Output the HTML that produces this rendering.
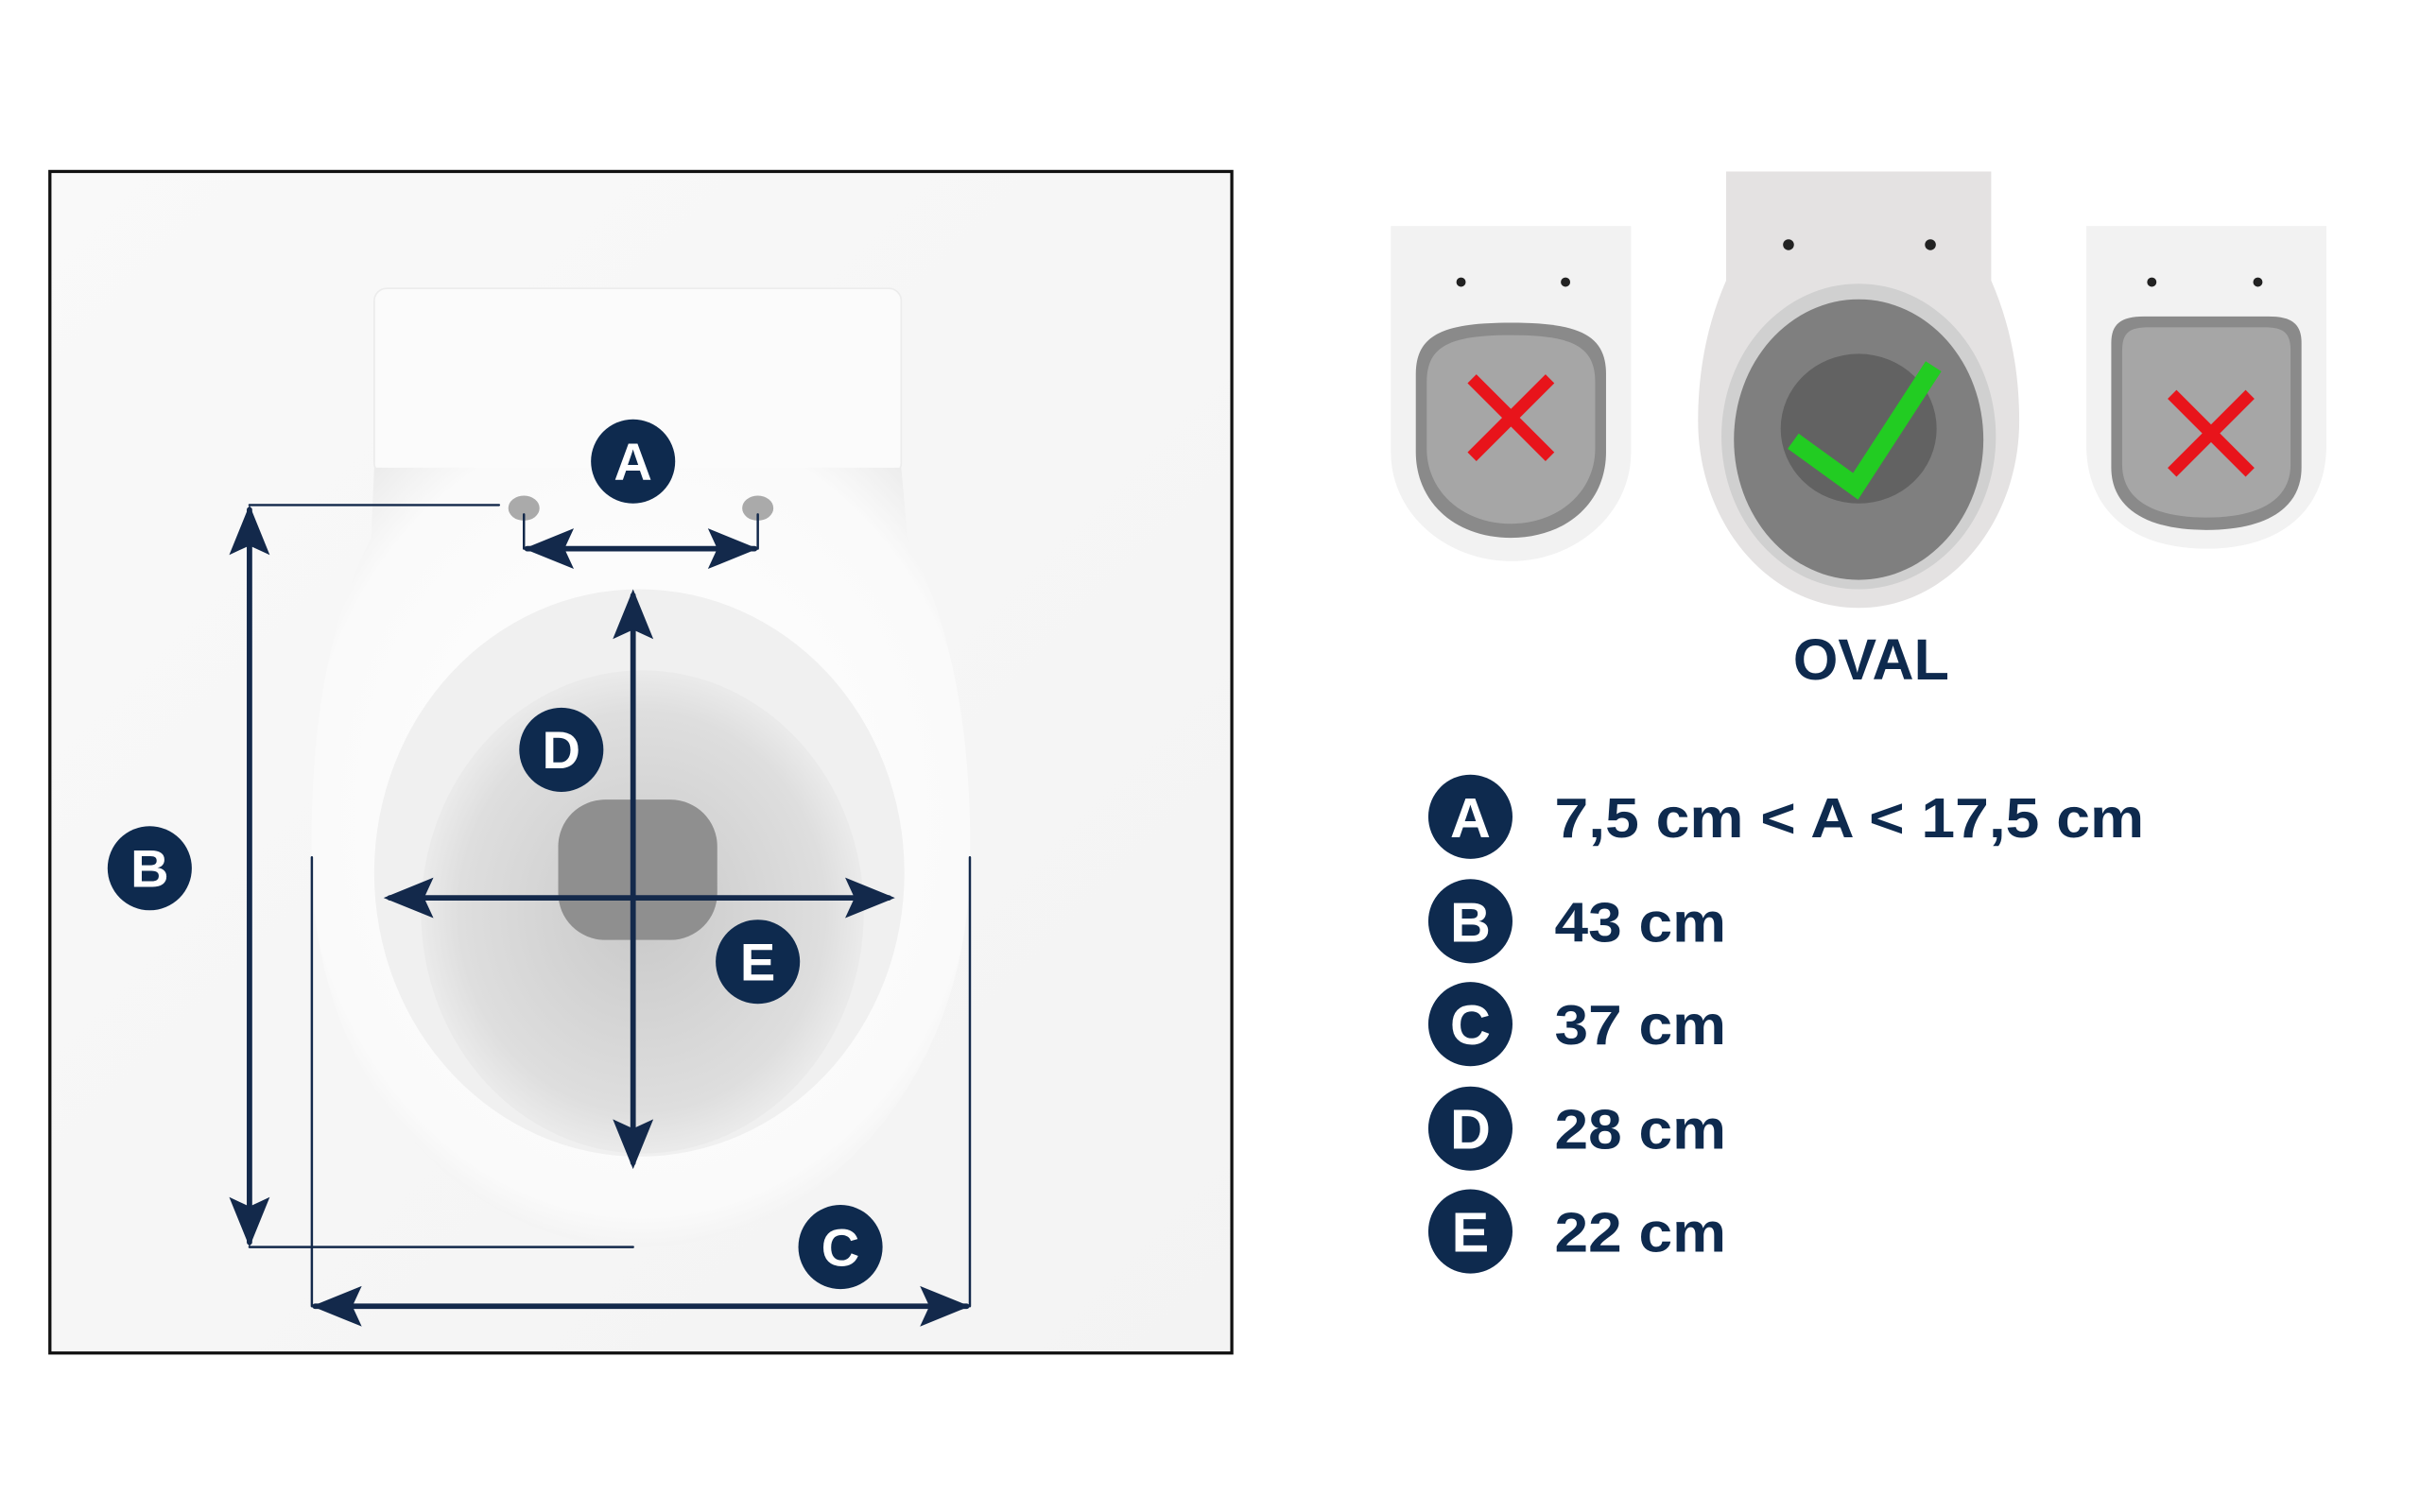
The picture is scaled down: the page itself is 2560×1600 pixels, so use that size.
<!DOCTYPE html>
<html><head><meta charset="utf-8"><style>html,body{margin:0;padding:0;background:#fff}svg{display:block}</style></head>
<body>
<svg width="2560" height="1600" viewBox="0 0 1552 970" xmlns="http://www.w3.org/2000/svg" font-family="Liberation Sans, sans-serif">
<defs>
<linearGradient id="bg" x1="0" y1="0" x2="1" y2="1"><stop offset="0" stop-color="#f9f9f9"/><stop offset="1" stop-color="#f3f3f3"/></linearGradient>
<radialGradient id="inner" cx="0.5" cy="0.5" r="0.55"><stop offset="0" stop-color="#c9c9c9"/><stop offset="0.75" stop-color="#dedede"/><stop offset="1" stop-color="#f2f2f2"/></radialGradient>
<radialGradient id="bowl" cx="0.5" cy="0.45" r="0.6"><stop offset="0" stop-color="#ffffff"/><stop offset="0.85" stop-color="#fafafa"/><stop offset="1" stop-color="#ececec"/></radialGradient>
<g id="cr"><path d="M-25,-25 L25,25 M25,-25 L-25,25" stroke="#e8141b" stroke-width="8"/></g>
</defs>
<rect x="32" y="110" width="758" height="758" fill="url(#bg)" stroke="#111" stroke-width="2"/>
<!-- toilet -->
<rect x="240" y="185" width="338" height="120" rx="8" fill="#fbfbfb" stroke="#ececec"/>
<path d="M240,300 L578,300 L582,345 C610,400 624,470 622,560 C618,700 520,800 410,800 C300,800 204,700 200,560 C198,470 210,400 238,345 Z" fill="url(#bowl)"/>
<ellipse cx="410" cy="560" rx="170" ry="182" fill="#f0f0f0"/>
<ellipse cx="412" cy="585" rx="142" ry="155" fill="url(#inner)"/>
<rect x="358" y="513" width="102" height="90" rx="30" fill="#8f8f8f"/>
<ellipse cx="336" cy="326" rx="10" ry="8" fill="#aaa"/>
<ellipse cx="486" cy="326" rx="10" ry="8" fill="#aaa"/>
<g stroke="#13294b" fill="none" stroke-linecap="round" stroke-linejoin="round">
<g stroke-width="1.5">
<path d="M160,324 H320 M160,800 H406 M200,550 V838 M622,550 V838 M336,330 V352 M486,330 V352"/>
</g>
<g stroke-width="3.5">
<path d="M338,352 H484 M160,327 V797 M202,838 H620 M406,382 V746 M250,576 H570"/>
</g>
</g>
<g fill="#13294b">
<path d="M336,352 L368,339 L362,352 L368,365 Z M486,352 L454,339 L460,352 L454,365 Z"/>
<path d="M160,324 L147,356 L160,350 L173,356 Z M160,800 L147,768 L160,774 L173,768 Z"/>
<path d="M200,838 L232,825 L226,838 L232,851 Z M622,838 L590,825 L596,838 L590,851 Z"/>
<path d="M406,378 L393,410 L406,404 L419,410 Z M406,750 L393,718 L406,724 L419,718 Z"/>
<path d="M246,576 L278,563 L272,576 L278,589 Z M574,576 L542,563 L548,576 L542,589 Z"/>
</g>
<g font-weight="bold" font-size="34" fill="#fff" text-anchor="middle">
<circle cx="406" cy="296" r="27" fill="#0e2a4e"/><text x="406" y="308">A</text>
<circle cx="360" cy="481" r="27" fill="#0e2a4e"/><text x="360" y="493">D</text>
<circle cx="486" cy="617" r="27" fill="#0e2a4e"/><text x="486" y="629">E</text>
<circle cx="96" cy="557" r="27" fill="#0e2a4e"/><text x="96" y="569">B</text>
<circle cx="539" cy="800" r="27" fill="#0e2a4e"/><text x="539" y="812">C</text>
</g>
<!-- thumbnails -->
<path d="M892,145 H1046 V290 C1046,330 1010,360 969,360 C928,360 892,330 892,290 Z" fill="#f2f2f2"/>
<path d="M908,240 C908,215 925,207 969,207 C1013,207 1030,215 1030,240 V290 C1030,322 1005,345 969,345 C933,345 908,322 908,290 Z" fill="#8a8a8a"/>
<path d="M915,245 C915,222 930,215 969,215 C1008,215 1023,222 1023,245 V288 C1023,315 1000,336 969,336 C938,336 915,315 915,288 Z" fill="#a6a6a6"/>
<circle cx="937" cy="181" r="3" fill="#222"/><circle cx="1004" cy="181" r="3" fill="#222"/>
<use href="#cr" x="969" y="268"/>
<path d="M1107,110 H1277 V180 C1290,210 1295,240 1295,270 C1295,335 1250,390 1192,390 C1134,390 1089,335 1089,270 C1089,240 1094,210 1107,180 Z" fill="#e4e2e2"/>
<ellipse cx="1192" cy="280" rx="88" ry="98" fill="#d0d0d0"/>
<ellipse cx="1192" cy="282" rx="80" ry="90" fill="#7f7f7f"/>
<ellipse cx="1192" cy="275" rx="50" ry="48" fill="#626262"/>
<circle cx="1147" cy="157" r="3.5" fill="#222"/><circle cx="1238" cy="157" r="3.5" fill="#222"/>
<path d="M1150,283 L1190,312 L1240,235" stroke="#22cc22" stroke-width="12" fill="none"/>
<path d="M1338,145 H1492 V285 C1492,330 1460,352 1415,352 C1370,352 1338,330 1338,285 Z" fill="#f2f2f2"/>
<path d="M1354,220 C1354,208 1360,203 1375,203 H1455 C1470,203 1476,208 1476,220 V300 C1476,325 1455,340 1415,340 C1375,340 1354,325 1354,300 Z" fill="#8a8a8a"/>
<path d="M1361,225 C1361,213 1366,210 1378,210 H1452 C1464,210 1469,213 1469,225 V298 C1469,320 1450,332 1415,332 C1380,332 1361,320 1361,298 Z" fill="#a6a6a6"/>
<circle cx="1380" cy="181" r="3" fill="#222"/><circle cx="1448" cy="181" r="3" fill="#222"/>
<use href="#cr" x="1418" y="278"/>
<text x="1200" y="436" font-size="37" font-weight="bold" fill="#0e2a4e" text-anchor="middle">OVAL</text>
<g font-weight="bold" font-size="36">
<g fill="#fff" text-anchor="middle">
<circle cx="943" cy="524" r="27" fill="#0e2a4e"/><text x="943" y="537">A</text>
<circle cx="943" cy="591" r="27" fill="#0e2a4e"/><text x="943" y="604">B</text>
<circle cx="943" cy="657" r="27" fill="#0e2a4e"/><text x="943" y="670">C</text>
<circle cx="943" cy="724" r="27" fill="#0e2a4e"/><text x="943" y="737">D</text>
<circle cx="943" cy="790" r="27" fill="#0e2a4e"/><text x="943" y="803">E</text>
</g>
<g fill="#0e2a4e">
<text x="997" y="537" textLength="378" lengthAdjust="spacingAndGlyphs">7,5 cm &lt; A &lt; 17,5 cm</text>
<text x="997" y="604" textLength="110" lengthAdjust="spacingAndGlyphs">43 cm</text>
<text x="997" y="670" textLength="110" lengthAdjust="spacingAndGlyphs">37 cm</text>
<text x="997" y="737" textLength="110" lengthAdjust="spacingAndGlyphs">28 cm</text>
<text x="997" y="803" textLength="110" lengthAdjust="spacingAndGlyphs">22 cm</text>
</g>
</g>
</svg>
</body></html>
